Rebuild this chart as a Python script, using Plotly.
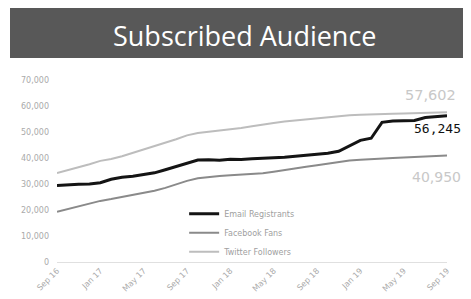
import plotly.graph_objects as go

months = ["Sep 16","Oct 16","Nov 16","Dec 16","Jan 17","Feb 17","Mar 17","Apr 17","May 17","Jun 17",
          "Jul 17","Aug 17","Sep 17","Oct 17","Nov 17","Dec 17","Jan 18","Feb 18","Mar 18","Apr 18",
          "May 18","Jun 18","Jul 18","Aug 18","Sep 18","Oct 18","Nov 18","Dec 18","Jan 19","Feb 19",
          "Mar 19","Apr 19","May 19","Jun 19","Jul 19","Aug 19","Sep 19"]
tick_labels = ["Sep 16","Jan 17","May 17","Sep 17","Jan 18","May 18","Sep 18","Jan 19","May 19","Sep 19"]

email = [29400,29700,29900,30000,30500,31800,32600,33000,33600,34300,35500,36800,38100,39200,39300,39100,
         39500,39400,39700,40000,40100,40300,40700,41000,41400,41800,42600,44800,46800,47600,53700,54200,
         54300,54400,55600,56000,56245]
facebook = [19300,20300,21300,22400,23500,24200,25000,25900,26700,27400,28500,29900,31200,32200,32700,33100,
            33400,33600,33800,34100,34700,35400,36000,36600,37200,37800,38500,39000,39300,39600,39800,40000,
            40200,40400,40600,40800,40950]
twitter = [34200,35300,36300,37600,38900,39600,40700,42000,43200,44400,45700,47200,48700,49600,50100,50500,
           50900,51500,52200,52900,53500,54000,54400,54800,55300,55700,56100,56400,56600,56800,56900,57000,
           57100,57200,57300,57450,57602]

fig = go.Figure()
fig.add_trace(go.Scatter(x=months, y=email, mode="lines", name="Email Registrants",
                         line=dict(color="#141414", width=3)))
fig.add_trace(go.Scatter(x=months, y=facebook, mode="lines", name="Facebook Fans",
                         line=dict(color="#8a8a8a", width=2)))
fig.add_trace(go.Scatter(x=months, y=twitter, mode="lines", name="Twitter Followers",
                         line=dict(color="#bdbdbd", width=2)))

fig.add_shape(type="rect", xref="paper", yref="paper", x0=-0.1205, x1=1.07, y0=1.121, y1=1.4,
              fillcolor="#585858", line=dict(width=0), layer="above")
fig.add_annotation(xref="paper", yref="paper", x=0.483, y=1.242, text="Subscribed Audience",
                   showarrow=False, font=dict(family="Open Sans", size=27, color="white"),
                   xanchor="center", yanchor="middle")

fig.add_annotation(xref="paper", yref="paper", x=1.028, y=0.918, text=f"{twitter[-1]:,}",
                   showarrow=False, xanchor="right", yanchor="middle",
                   font=dict(family="DejaVu Sans", size=14.5, color="#c8c8c8"))
fig.add_annotation(xref="paper", yref="paper", x=1.041, y=0.736, text=f"{email[-1]:,}",
                   showarrow=False, xanchor="right", yanchor="middle",
                   font=dict(family="DejaVu Sans Mono", size=13, color="#111111"))
fig.add_annotation(xref="paper", yref="paper", x=1.041, y=0.467, text=f"{facebook[-1]:,}",
                   showarrow=False, xanchor="right", yanchor="middle",
                   font=dict(family="DejaVu Sans", size=14, color="#c8c8c8"))

fig.update_layout(
    width=463, height=291,
    margin=dict(l=49, r=24, t=72, b=37),
    paper_bgcolor="white", plot_bgcolor="white",
    showlegend=True,
    legend=dict(x=0.326, y=0.345, xanchor="left", yanchor="top", bgcolor="rgba(0,0,0,0)",
                font=dict(family="DejaVu Sans", size=8, color="#a0a0a0"),
                itemwidth=30, tracegroupgap=0),
    xaxis=dict(type="category", range=[0, len(months) - 1], tickmode="array",
               tickvals=tick_labels, ticktext=tick_labels, tickangle=-45, automargin=False,
               showgrid=False, zeroline=False, showline=True, linecolor="#e0e0e0",
               tickfont=dict(family="DejaVu Sans", size=8, color="#aaaaaa"), ticks=""),
    yaxis=dict(range=[0, 70000], tickvals=[0,10000,20000,30000,40000,50000,60000,70000],
               tickformat=",", showgrid=False, zeroline=False, showline=False,
               ticklabelstandoff=7, automargin=False,
               tickfont=dict(family="DejaVu Sans", size=8, color="#aaaaaa"), ticks=""),
)

fig.write_html("out.html")
